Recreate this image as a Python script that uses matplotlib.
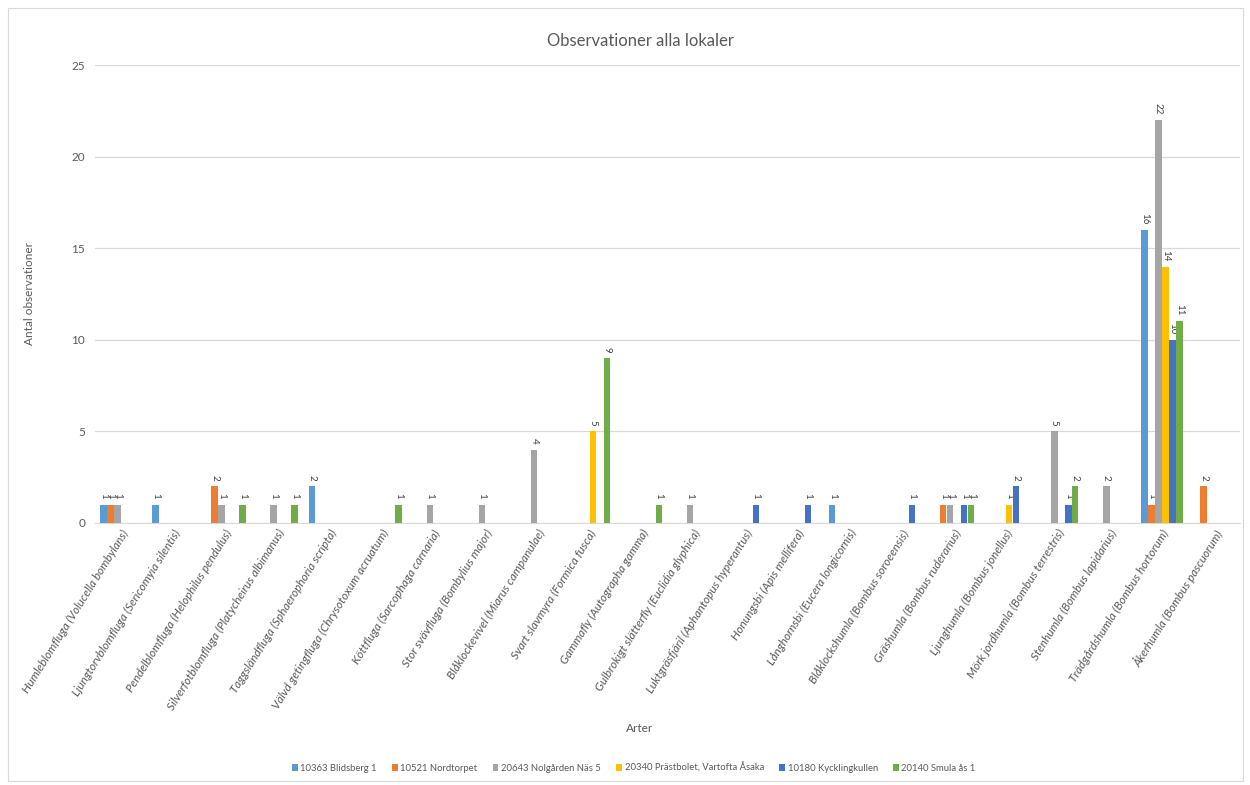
import matplotlib
matplotlib.use("Agg")
import matplotlib.pyplot as plt
import numpy as np

plt.rcParams['font.family'] = ['Lato', 'DejaVu Sans']

arter = [
    "Humleblomfluga (Volucella bombylans)",
    "Ljungtorvblomfluga (Sericomyia silentis)",
    "Pendelblomfluga (Helophilus pendulus)",
    "Silverfotblomfluga (Platycheirus albimanus)",
    "Taggsländfluga (Sphaerophoria scripta)",
    "Välvd getingfluga (Chrysotoxum acruatum)",
    "Köttfluga (Sarcophaga carnaria)",
    "Stor svävfluga (Bombylius major)",
    "Blåklockevivel (Miarus campanulae)",
    "Svart slavmyra (Formica fusca)",
    "Gammafly (Autographa gamma)",
    "Gulbrokigt slätterfly (Euclidia glyphica)",
    "Luktgräsfjäril (Aphantopus hyperantus)",
    "Honungsbi (Apis mellifera)",
    "Långhornsbi (Eucera longicornis)",
    "Blåklockshumla (Bombus soroeensis)",
    "Gräshumla (Bombus ruderarius)",
    "Ljunghumla (Bombus jonellus)",
    "Mörk jordhumla (Bombus terrestris)",
    "Stenhumla (Bombus lapidarius)",
    "Trädgårdshumla (Bombus hortorum)",
    "Åkerhumla (Bombus pascuorum)",
]

lokaler = [
    "10363 Blidsberg 1",
    "10521 Nordtorpet",
    "20643 Nolgården Näs 5",
    "20340 Prästbolet, Vartofta Åsaka",
    "10180 Kycklingkullen",
    "20140 Smula ås 1",
]

N = None
blidsberg     = [1, 1, N, N, 2, N, N, N, N, N, N, N, N, N, 1, N, N, N, N, N, 16, N]
nordtorpet    = [1, N, 2, N, N, N, N, N, N, N, N, N, N, N, N, N, 1, N, N, N, 1, 2]
nolgarden     = [1, N, 1, 1, N, N, 1, 1, 4, N, N, 1, N, N, N, N, 1, N, 5, 2, 22, N]
prastbolet    = [N, N, N, N, N, N, N, N, N, 5, N, N, N, N, N, N, N, 1, N, N, 14, N]
kycklingkull  = [N, N, N, N, N, N, N, N, N, N, N, N, 1, 1, N, 1, 1, 2, 1, N, 10, N]
smula         = [N, N, 1, 1, N, 1, N, N, N, 9, 1, N, N, N, N, N, 1, N, 2, N, 11, N]

serier = [blidsberg, nordtorpet, nolgarden, prastbolet, kycklingkull, smula]
farger = ["#5B9BD5", "#ED7D31", "#A5A5A5", "#FFC000", "#4472C4", "#70AD47"]

textfarg = "#595959"

fig = plt.figure(figsize=(12.5, 7.85), dpi=100)
ax = fig.add_axes([0.076, 0.334, 0.916, 0.583])

x = np.arange(len(arter))
w = 0.134
for j, (vals, c, namn) in enumerate(zip(serier, farger, lokaler)):
    pos = x + (j - 2.5) * w
    h = [np.nan if v is None else v for v in vals]
    ax.bar(pos, h, width=w * 0.92, color=c, label=namn, zorder=3)
    for p, v in zip(pos, vals):
        if v is not None:
            ax.text(p, v + 0.3, str(v), rotation=270, ha="center", va="bottom",
                    fontsize=7, color="#404040")

ax.set_xlim(-0.5, len(arter) - 0.5)
ax.set_ylim(0, 25)
ax.set_yticks(range(0, 26, 5))
ax.yaxis.grid(True, color="#D9D9D9", linewidth=0.9, zorder=0)
ax.set_axisbelow(True)
for s in ["left", "right", "top"]:
    ax.spines[s].set_visible(False)
ax.spines["bottom"].set_color("#D9D9D9")
ax.tick_params(axis="both", length=0, colors=textfarg, labelsize=8.5)
ax.tick_params(axis="y", pad=7)

ax.set_xticks(x)
ax.set_xticklabels(arter, rotation=58, ha="right", rotation_mode="anchor",
                   fontsize=8.5, style="italic", color=textfarg)

fig.text(0.512, 0.948, "Observationer alla lokaler", ha="center", va="center",
         fontsize=12, color=textfarg)
ax.set_ylabel("Antal observationer", fontsize=8.5, color=textfarg, labelpad=26)
fig.text(0.512, 0.068, "Arter", ha="center", fontsize=8.5, color=textfarg)

fig.legend(loc="lower center", bbox_to_anchor=(0.507, 0.005), ncol=6, frameon=False,
           fontsize=6.8, handlelength=0.6, handleheight=0.8, handletextpad=0.3,
           columnspacing=1.6, labelcolor=textfarg)

fig.patches.append(plt.Rectangle((0.006, 0.005), 0.988, 0.985, transform=fig.transFigure,
                                 fill=False, edgecolor="#D9D9D9", linewidth=0.8))

fig.savefig("out.png", dpi=100, facecolor="white")
